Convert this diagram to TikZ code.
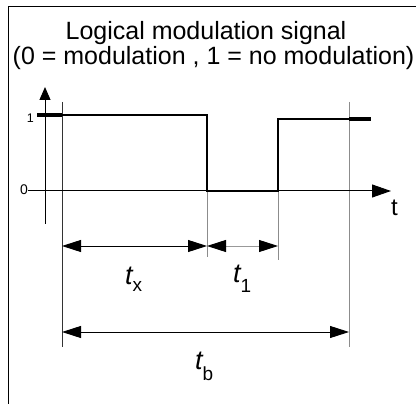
\documentclass[tikz,border=0pt]{standalone}
\usepackage{fontspec}
\setmainfont{Liberation Sans}
\usetikzlibrary{arrows.meta}
\begin{document}
\begin{tikzpicture}[x=1pt,y=-1pt,
  frame/.style={line width=1pt},
  axis/.style={line width=1pt},
  signal/.style={line width=2.6pt, line join=miter},
  sigend/.style={line width=3.8pt},
  guide/.style={line width=0.9pt, draw=black!45},
  guidedark/.style={line width=0.9pt, draw=black!80},
  dimtip/.tip={Triangle[length=19pt,width=12pt,color=black]},
  dim/.style={line width=0.9pt, dimtip-dimtip},
  big/.style={font=\fontsize{25}{28}\selectfont, inner sep=0pt},
  lbl/.style={inner sep=0pt}
]
\useasboundingbox (0,0) rectangle (416,404);
% frame
\coordinate (fr) at (416,7);
\coordinate (fc) at (8,7);
\coordinate (fb) at (8,404);
\draw[frame] (fr) -- (fc) -- (fb);
% title
\node[big, anchor=base] (title1) at (206,40) {Logical modulation signal};
\node[big, anchor=base] (title2) at (213.5,65) {(0 = modulation , 1 = no modulation)};
% guide lines
\coordinate (g1t) at (62,102);  \coordinate (g1b) at (62,347);
\coordinate (g2t) at (207,191); \coordinate (g2b) at (207,257);
\coordinate (g3t) at (278,191); \coordinate (g3b) at (278,260);
\coordinate (g4t) at (349,102); \coordinate (g4b) at (349,347);
\draw[guidedark] (g1t) -- (g1b);
\draw[guide] (g2t) -- (g2b);
\draw[guide] (g3t) -- (g3b);
\draw[guide] (g4t) -- (g4b);
% axes
\coordinate (yb) at (45,224); \coordinate (yt) at (45,87);
\draw[axis, -{Triangle[length=13pt,width=11pt]}] (yb) -- (yt);
\coordinate (xl) at (28,191); \coordinate (xr) at (391,191);
\draw[axis, -{Triangle[length=19pt,width=13pt]}] (xl) -- (xr);
\node[lbl, font=\fontsize{24}{24}\selectfont, anchor=base west] (tlab) at (391,215) {t};
\node[lbl, font=\fontsize{12.5}{12.5}\selectfont, anchor=base east] (one) at (34,123) {1};
\node[lbl, font=\fontsize{14}{14}\selectfont, anchor=base east] (zero) at (28,195) {0};
% signal
\coordinate (s0) at (37,115);
\coordinate (s1) at (207,115);
\coordinate (s2) at (207,191);
\coordinate (s3) at (278,191);
\coordinate (s4) at (278,119);
\coordinate (s5) at (371,119);
\coordinate (e1) at (62,115);
\coordinate (e2) at (349,119);
\draw[signal] (s0) -- (s1) -- (s2) -- (s3) -- (s4) -- (s5);
\draw[sigend] (s0) -- (e1);
\draw[sigend] (e2) -- (s5);
% dimensions
\coordinate (a1) at (62,246); \coordinate (a2) at (207,246); \coordinate (a3) at (278,246);
\draw[dim] (a1) -- (a2);
\draw[dim, draw=black!40] (a2) -- (a3);
\coordinate (b1) at (62,332); \coordinate (b2) at (349,332);
\draw[dim] (b1) -- (b2);
% labels
\node[lbl, anchor=base west] (tx) at (125,285) {\fontsize{27}{27}\selectfont\itshape t\upshape\fontsize{19}{19}\selectfont\raisebox{-7pt}{x}};
\node[lbl, anchor=base west] (t1) at (233,283) {\fontsize{27}{27}\selectfont\itshape t\upshape\fontsize{19}{19}\selectfont\raisebox{-10pt}{1}};
\node[lbl, anchor=base west] (tb) at (195,370) {\fontsize{27}{27}\selectfont\itshape t\upshape\fontsize{19}{19}\selectfont\raisebox{-11pt}{b}};
\end{tikzpicture}
\end{document}
